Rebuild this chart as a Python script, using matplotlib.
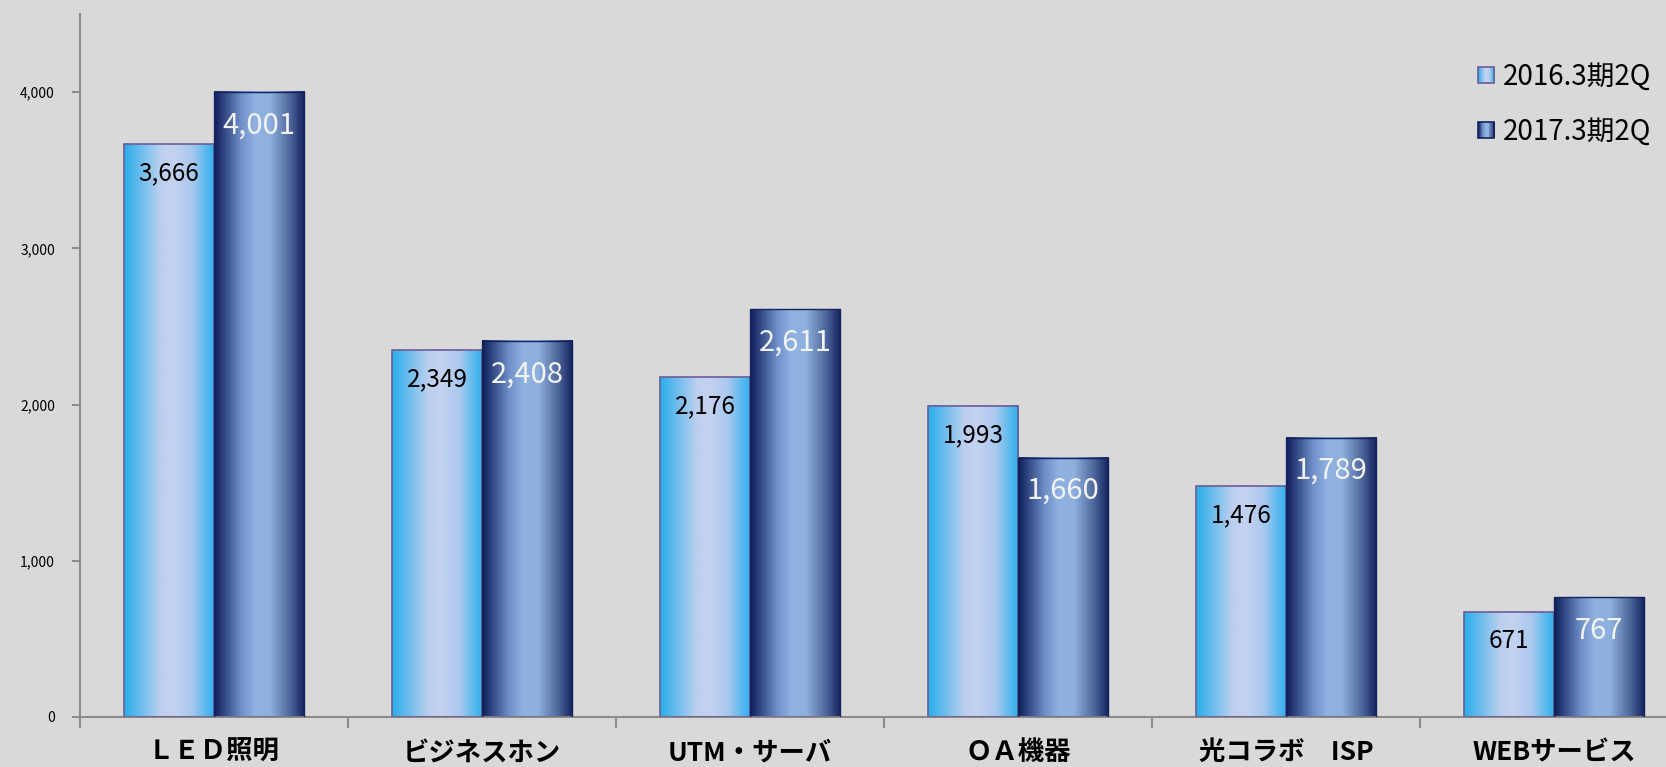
import numpy as np
import matplotlib
matplotlib.use('Agg')
import matplotlib.pyplot as plt
from matplotlib.colors import LinearSegmentedColormap
from matplotlib.legend_handler import HandlerBase
from matplotlib.patches import Rectangle

plt.rcParams['font.family'] = ['Noto Sans CJK JP', 'DejaVu Sans']

categories = ['ＬＥＤ照明', 'ビジネスホン', 'UTM・サーバ', 'ＯＡ機器', '光コラボ　ISP', 'WEBサービス']
series_names = ['2016.3期2Q', '2017.3期2Q']
values_2016 = [3666, 2349, 2176, 1993, 1476, 671]
values_2017 = [4001, 2408, 2611, 1660, 1789, 767]

bg = '#d9d9d9'
cmap1 = LinearSegmentedColormap.from_list('s1', [(0, '#28aeea'), (0.4, '#bccff0'), (0.55, '#c4d2f0'), (0.75, '#a9c8ee'), (1, '#29b0ee')])
cmap2 = LinearSegmentedColormap.from_list('s2', [(0, '#0e1d5a'), (0.3, '#6f90c8'), (0.45, '#8fb2e1'), (0.62, '#8db0de'), (0.85, '#4a6297'), (1, '#13215e')])
edge1 = '#6d5c98'
edge2 = '#16235c'

fig = plt.figure(figsize=(16.66, 7.67), dpi=100, facecolor=bg)
ax = fig.add_axes([80 / 1666, 50 / 767, 1586 / 1666, 703 / 767], facecolor=bg)

x = np.arange(len(categories))
w = 0.336
grad = np.linspace(0, 1, 256).reshape(1, -1)

bars1 = ax.bar(x - w / 2, values_2016, w, facecolor='none', edgecolor=edge1, linewidth=1.2, zorder=3)
bars2 = ax.bar(x + w / 2, values_2017, w, facecolor='none', edgecolor=edge2, linewidth=1.0, zorder=3)

# gradient fill inside each bar
for bars, cm in ((bars1, cmap1), (bars2, cmap2)):
    for b in bars:
        ax.imshow(grad, cmap=cm, aspect='auto', zorder=2,
                  extent=[b.get_x(), b.get_x() + b.get_width(), 0, b.get_height()])

for b, v in zip(bars1, values_2016):
    ax.annotate(f'{v:,}', (b.get_x() + b.get_width() / 2, b.get_height()),
                xytext=(0, -21), textcoords='offset points', ha='center', va='center',
                fontsize=17.5, color='black', zorder=4)
for b, v in zip(bars2, values_2017):
    ax.annotate(f'{v:,}', (b.get_x() + b.get_width() / 2, b.get_height()),
                xytext=(0, -24), textcoords='offset points', ha='center', va='center',
                fontsize=21, color='#f2f2f2', zorder=4)

ax.set_yticks([0, 1000, 2000, 3000, 4000])
ax.set_yticklabels([f'{t:,}' for t in [0, 1000, 2000, 3000, 4000]], fontsize=10)
ax.set_xticks(x)
ax.set_xticklabels(categories, fontsize=19, fontweight='bold')
ax.set_xticks(np.arange(-0.5, len(categories)), minor=True)
ax.set_xlim(-0.5, -0.5 + 1586 / 268)
ax.set_ylim(0, 4500)
ax.tick_params(axis='x', which='major', length=0, pad=16)
ax.tick_params(axis='x', which='minor', length=8, width=1.5, color='#8c8c8c', direction='out')
ax.tick_params(axis='y', length=6, width=1.5, color='#8c8c8c', pad=12)

for s in ('top', 'right'):
    ax.spines[s].set_visible(False)
for s in ('left', 'bottom'):
    ax.spines[s].set_color('#8c8c8c')
    ax.spines[s].set_linewidth(1.5)


class GradHandler(HandlerBase):
    def __init__(self, cm, edge):
        super().__init__()
        self.cm = cm
        self.edge = edge

    def create_artists(self, legend, orig_handle, xdescent, ydescent, width, height, fontsize, trans):
        size = 16 * 0.72
        x0 = -xdescent + width - size
        y0 = -ydescent + (height - size) / 2
        arts = []
        n = 20
        for i in range(n):
            arts.append(Rectangle((x0 + size * i / n, y0), size / n + 0.3, size,
                                  facecolor=self.cm((i + 0.5) / n), edgecolor='none', transform=trans))
        arts.append(Rectangle((x0, y0), size, size, facecolor='none', edgecolor=self.edge,
                              linewidth=1.2, transform=trans))
        return arts


h1 = Rectangle((0, 0), 1, 1)
h2 = Rectangle((0, 0), 1, 1)
fig.legend([h1, h2], series_names, loc='upper right', bbox_to_anchor=(1.006, 0.952),
           frameon=False, fontsize=20, labelspacing=0.9, handlelength=0.75, handletextpad=0.3,
           handler_map={h1: GradHandler(cmap1, edge1), h2: GradHandler(cmap2, edge2)})

fig.savefig('out.png', dpi=100, facecolor=bg)
